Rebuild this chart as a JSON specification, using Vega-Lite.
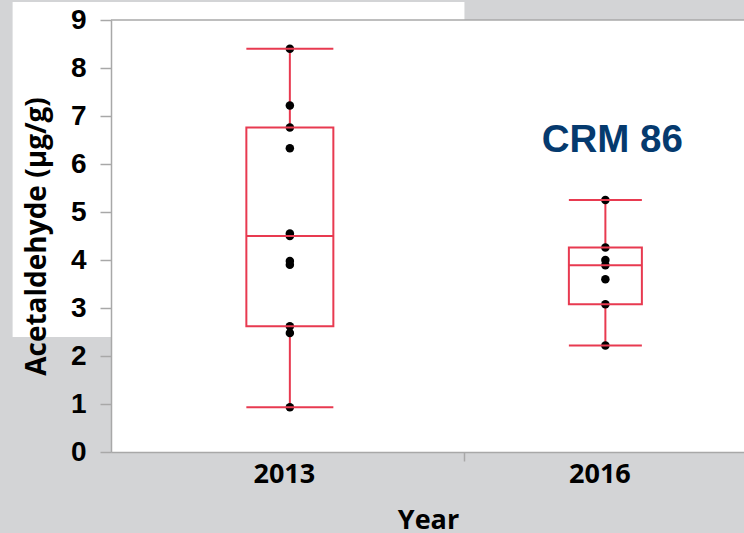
{
  "$schema": "https://vega.github.io/schema/vega-lite/v6.json",
  "width": 634,
  "height": 432,
  "autosize": {"type": "none"},
  "padding": {"left": 111, "top": 20, "right": 0, "bottom": 81},
  "background": "#D3D4D6",
  "config": {"view": {"fill": "white", "stroke": null}},
  "datasets": {
    "points": [
      {"year": 2013, "value": 8.4},
      {"year": 2013, "value": 7.22},
      {"year": 2013, "value": 6.76},
      {"year": 2013, "value": 6.33},
      {"year": 2013, "value": 4.55},
      {"year": 2013, "value": 4.5},
      {"year": 2013, "value": 3.98},
      {"year": 2013, "value": 3.9},
      {"year": 2013, "value": 2.62},
      {"year": 2013, "value": 2.48},
      {"year": 2013, "value": 0.93},
      {"year": 2016, "value": 5.25},
      {"year": 2016, "value": 4.26},
      {"year": 2016, "value": 4.0},
      {"year": 2016, "value": 3.89},
      {"year": 2016, "value": 3.6},
      {"year": 2016, "value": 3.08},
      {"year": 2016, "value": 2.22}
    ],
    "summary": [
      {"year": 2013, "min": 0.93, "q1": 2.62, "median": 4.5, "q3": 6.76, "max": 8.4},
      {"year": 2016, "min": 2.22, "q1": 3.08, "median": 3.89, "q3": 4.26, "max": 5.25}
    ]
  },
  "layer": [
    {
      "data": {"values": [{}]},
      "mark": {"type": "rect", "color": "white"},
      "encoding": {
        "x": {"datum": 2010.364, "type": "quantitative"},
        "x2": {"datum": 2014.66},
        "y": {"datum": 9.375, "type": "quantitative"},
        "y2": {"datum": 2.396}
      }
    },
    {
      "data": {"values": [{}]},
      "mark": {"type": "rule", "color": "#A8A8A8", "strokeWidth": 1.5},
      "encoding": {"y": {"datum": 9, "type": "quantitative"}}
    },
    {
      "data": {"name": "summary"},
      "mark": {"type": "rule", "color": "#E83A50", "strokeWidth": 2},
      "encoding": {
        "x": {"field": "year", "type": "quantitative"},
        "y": {"field": "min", "type": "quantitative"},
        "y2": {"field": "q1"}
      }
    },
    {
      "data": {"name": "summary"},
      "mark": {"type": "rule", "color": "#E83A50", "strokeWidth": 2},
      "encoding": {
        "x": {"field": "year", "type": "quantitative"},
        "y": {"field": "q3", "type": "quantitative"},
        "y2": {"field": "max"}
      }
    },
    {
      "data": {"name": "points"},
      "mark": {"type": "circle", "color": "black", "opacity": 1, "size": 72},
      "encoding": {
        "x": {
          "field": "year",
          "type": "quantitative",
          "scale": {"domain": [2011.347, 2017.28], "nice": false, "zero": false},
          "axis": {
            "values": [2013, 2014.66, 2016],
            "format": "d",
            "labelExpr": "datum.value == 2014.66 ? '' : datum.label",
            "tickColor": {"condition": {"test": "datum.value == 2014.66", "value": "#A8A8A8"}, "value": "transparent"},
            "tickSize": 9,
            "tickWidth": 1.5,
            "domainColor": "#A8A8A8",
            "domainWidth": 1.5,
            "labelFont": "Open Sans",
            "labelFontWeight": "bold",
            "labelFontSize": 27,
            "labelColor": "black",
            "labelPadding": 0,
            "labelOffset": -6,
            "labelFlush": false,
            "labelOverlap": false,
            "grid": false,
            "title": "Year",
            "titleFont": "Open Sans",
            "titleFontSize": 27,
            "titleFontWeight": "bold",
            "titleColor": "black",
            "titlePadding": 20,
            "zindex": 1
          }
        },
        "y": {
          "field": "value",
          "type": "quantitative",
          "scale": {"domain": [0, 9], "nice": false, "zero": true},
          "axis": {
            "values": [0, 1, 2, 3, 4, 5, 6, 7, 8, 9],
            "tickSize": 11,
            "tickColor": "#A8A8A8",
            "tickWidth": 1.5,
            "domainColor": "#A8A8A8",
            "domainWidth": 1.5,
            "labelFont": "Liberation Sans",
            "labelFontWeight": "bold",
            "labelFontSize": 28,
            "labelColor": "black",
            "labelPadding": 14,
            "labelFlush": false,
            "labelOverlap": false,
            "grid": false,
            "title": "Acetaldehyde (µg/g)",
            "titleFont": "Open Sans",
            "titleFontSize": 28,
            "titleFontWeight": "bold",
            "titleColor": "black",
            "titlePadding": 19,
            "zindex": 1
          }
        }
      }
    },
    {
      "data": {"name": "summary"},
      "mark": {"type": "bar", "fill": "transparent", "stroke": "#E83A50", "strokeWidth": 2},
      "encoding": {
        "x": {"field": "year", "type": "quantitative"},
        "y": {"field": "q1", "type": "quantitative"},
        "y2": {"field": "q3"},
        "size": {"condition": {"test": "datum.year == 2013", "value": 87}, "value": 73}
      }
    },
    {
      "data": {"name": "summary"},
      "transform": [{"fold": ["min", "median", "max"], "as": ["stat", "v"]}],
      "mark": {"type": "tick", "orient": "horizontal", "color": "#E83A50", "thickness": 2, "opacity": 1},
      "encoding": {
        "x": {"field": "year", "type": "quantitative"},
        "y": {"field": "v", "type": "quantitative"},
        "size": {"condition": {"test": "datum.year == 2013", "value": 87}, "value": 73}
      }
    },
    {
      "data": {"values": [{}]},
      "mark": {"type": "text", "text": "CRM 86", "font": "Liberation Sans", "fontWeight": "bold", "fontSize": 38.5, "color": "#053A6E", "align": "center", "baseline": "alphabetic"},
      "encoding": {
        "x": {"datum": 2016.066, "type": "quantitative"},
        "y": {"datum": 6.25, "type": "quantitative"}
      }
    }
  ]
}
